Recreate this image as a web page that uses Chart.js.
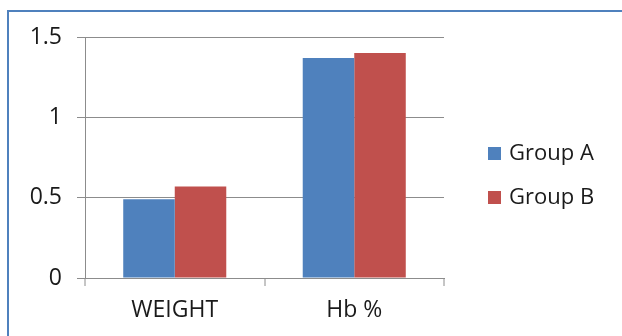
<!DOCTYPE html>
<html>
<head>
<meta charset="utf-8">
<script src="https://cdn.jsdelivr.net/npm/chart.js@4.4.1/dist/chart.umd.min.js"></script>
<style>
  html, body { margin: 0; padding: 0; background: #fff; }
  #wrap { position: relative; width: 622px; height: 336px; overflow: hidden; }
  #frame { position: absolute; left: 7px; top: 10px; width: 700px; height: 400px;
           border-top: 2px solid #4f81bd; border-left: 2px solid #4f81bd; }
  canvas { position: absolute; left: 0; top: 0; }
</style>
</head>
<body>
<div id="wrap">
  <div id="frame"></div>
  <canvas id="chart" width="622" height="336"></canvas>
</div>
<script>
// data
const categories = ['WEIGHT', 'Hb %'];
const groupA = [0.49, 1.37];
const groupB = [0.57, 1.40];
const yTicks = [0, 0.5, 1, 1.5];

const FONT = { family: '"Open Sans", sans-serif', size: 23 };
const TEXT = '#1a1a1a';
const GRID = '#8c8c8c';

// legend drawn at the right, next to the plot like the original
const sideLegend = {
  id: 'sideLegend',
  afterDraw(chart) {
    const ctx = chart.ctx;
    ctx.save();
    ctx.font = `${FONT.size - 1}px ${FONT.family}`;
    ctx.textBaseline = 'middle';
    ctx.textAlign = 'left';
    chart.data.datasets.forEach((ds, i) => {
      const y = 153 + i * 44;
      ctx.fillStyle = ds.backgroundColor;
      ctx.fillRect(488, y - 6, 13, 13);
      ctx.fillStyle = TEXT;
      ctx.fillText(ds.label, 509, y + 1);
    });
    ctx.restore();
  }
};

new Chart(document.getElementById('chart'), {
  type: 'bar',
  data: {
    labels: categories,
    datasets: [
      { label: 'Group A', data: groupA, backgroundColor: '#4f81bd' },
      { label: 'Group B', data: groupB, backgroundColor: '#c0504d' }
    ]
  },
  options: {
    responsive: false,
    animation: false,
    layout: { padding: { top: 37, right: 178, bottom: 0, left: 0 } },
    datasets: { bar: { categoryPercentage: 0.574, barPercentage: 1.0 } },
    plugins: { legend: { display: false }, tooltip: { enabled: false } },
    scales: {
      x: {
        afterFit: (s) => { s.height = 58; },
        grid: { display: true, drawOnChartArea: false, offset: true, tickLength: 8,
                color: GRID, lineWidth: 2, tickColor: GRID, tickWidth: 1 },
        border: { display: true, color: GRID, width: 1 },
        ticks: { color: TEXT, font: FONT, padding: 11 }
      },
      y: {
        min: 0,
        max: 1.5,
        afterFit: (s) => { s.width = 85; },
        afterBuildTicks: (s) => { s.ticks = yTicks.map(v => ({ value: v })); },
        grid: { color: GRID, tickLength: 8, lineWidth: 1 },
        border: { display: true, color: GRID, width: 1 },
        ticks: { color: TEXT, font: FONT, padding: 15, callback: (v) => String(v) }
      }
    }
  },
  plugins: [sideLegend]
});
</script>
</body>
</html>
